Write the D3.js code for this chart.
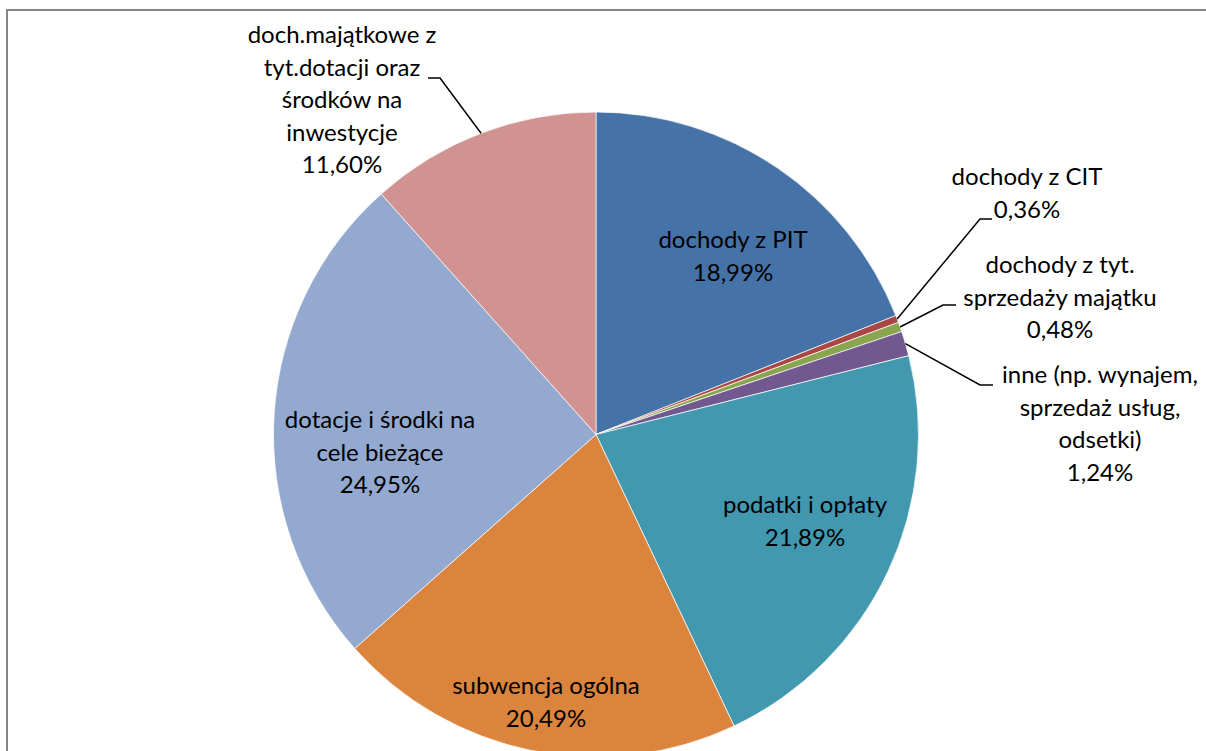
<!DOCTYPE html>
<html>
<head>
<meta charset="utf-8">
<script src="https://cdn.jsdelivr.net/npm/d3@7"></script>
<style>
  body { margin: 0; background: #fff; }
  svg { display: block; }
  text { font-family: Lato, "Open Sans", sans-serif; font-size: 24px; fill: #000; }
</style>
</head>
<body>
<div id="chart"></div>
<script>
// chart data (slices clockwise from 12 o'clock)
var categories = [
    ["dochody z PIT"],
    ["dochody z CIT"],
    ["dochody z tyt.", "sprzedaży majątku"],
    ["inne (np. wynajem,", "sprzedaż usług,", "odsetki)"],
    ["podatki i opłaty"],
    ["subwencja ogólna"],
    ["dotacje i środki na", "cele bieżące"],
    ["doch.majątkowe z", "tyt.dotacji oraz", "środków na", "inwestycje"]
];
var values = [18.99, 0.36, 0.48, 1.24, 21.89, 20.49, 24.95, 11.60];
var colors = ["#4572A7", "#AA4643", "#89A54E", "#71588F", "#4198AF", "#DB843D", "#93A9CF", "#D19392"];

// label layout: text center x, first baseline y, leader elbow points (null = label inside)
var labelPos = [
    { x: 733, y: 248, leader: null },
    { x: 1027, y: 185, leader: [[980, 219], [992, 219]] },
    { x: 1060, y: 273, leader: [[943, 305], [956, 305]] },
    { x: 1100, y: 383, leader: [[980, 385], [993, 385]] },
    { x: 805, y: 513, leader: null },
    { x: 546, y: 694, leader: null },
    { x: 380, y: 428, leader: null },
    { x: 342, y: 43, leader: [[440, 78], [428, 78]] }
];

var width = 1206, height = 751;
var cx = 596, cy = 434.5, radius = 322.5;
var lineH = 32.6;

var svg = d3.select("#chart").append("svg")
    .attr("width", width)
    .attr("height", height);

// chart area border (right and bottom edges fall outside the picture)
svg.append("rect")
    .attr("x", 7)
    .attr("y", 10)
    .attr("width", 1250)
    .attr("height", 800)
    .style("fill", "none")
    .style("stroke", "#868686")
    .style("stroke-width", 2);

var pie = d3.pie().sort(null).value(function(d) { return d; });
var arcs = pie(values);
var arc = d3.arc().innerRadius(0).outerRadius(radius);

var g = svg.append("g").attr("transform", "translate(" + cx + "," + cy + ")");

g.selectAll(".slice")
    .data(arcs)
    .enter().append("path")
    .attr("class", "slice")
    .attr("d", arc)
    .style("fill", function(d, i) { return colors[i]; })
    .style("stroke", "#fff")
    .style("stroke-width", 0.7);

// leader lines
arcs.forEach(function(d, i) {
    var lp = labelPos[i];
    if (!lp.leader) return;
    var a = (d.startAngle + d.endAngle) / 2;
    var start = [cx + radius * Math.sin(a), cy - radius * Math.cos(a)];
    var pts = [start].concat(lp.leader);
    svg.append("path")
        .attr("d", d3.line()(pts))
        .style("fill", "none")
        .style("stroke", "#000")
        .style("stroke-width", 1.5);
});

// labels
arcs.forEach(function(d, i) {
    var lp = labelPos[i];
    var lines = categories[i].concat([d3.format(".2f")(values[i]).replace(".", ",") + "%"]);
    var t = svg.append("text")
        .attr("text-anchor", "middle");
    lines.forEach(function(s, k) {
        t.append("tspan")
            .attr("x", lp.x)
            .attr("y", lp.y + k * lineH)
            .text(s);
    });
});
</script>
</body>
</html>
